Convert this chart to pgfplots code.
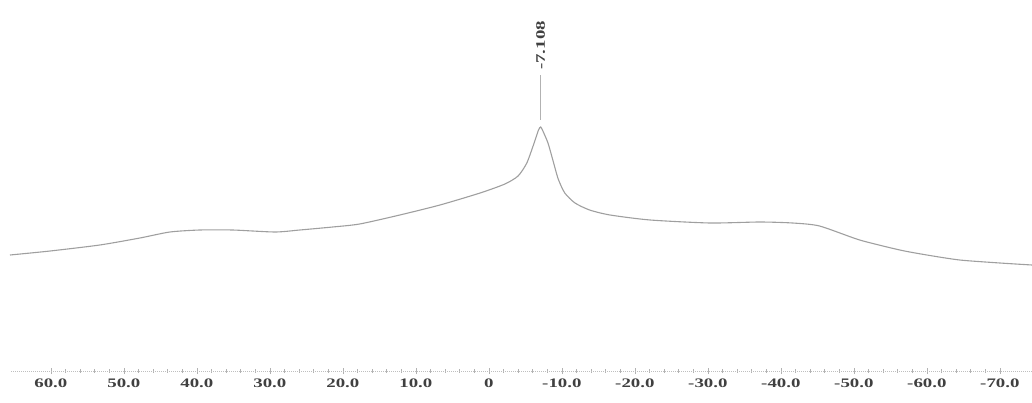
\documentclass[border=0pt]{standalone}
\usepackage{fontspec}
\setmainfont{Liberation Serif}
\usepackage{graphicx}
\usepackage{pgfplots}
\pgfplotsset{compat=1.18}
\newcommand{\lbl}[1]{\scalebox{1.45}[1]{\fontsize{13}{13}\selectfont\bfseries #1}}
\begin{document}
\begin{tikzpicture}
\begin{axis}[
  at={(0,0)}, anchor=south west,
  scale only axis,
  width=1022pt, height=371pt,
  x dir=reverse,
  xmin=-74.4, xmax=65.6,
  ymin=0, ymax=371,
  axis x line=bottom,
  axis y line=none,
  axis line style={gray!50, densely dotted, line width=1pt, -},
  xtick={60,50,40,30,20,10,0,-10,-20,-30,-40,-50,-60,-70},
  xticklabels={\lbl{60.0},\lbl{50.0},\lbl{40.0},\lbl{30.0},\lbl{20.0},\lbl{10.0},\lbl{0},\lbl{-10.0},\lbl{-20.0},\lbl{-30.0},\lbl{-40.0},\lbl{-50.0},\lbl{-60.0},\lbl{-70.0}},
  minor x tick num=4,
  major tick length=6pt, minor tick length=4pt,
  every tick/.style={gray!60, line width=0.7pt},
  tick align=center,
  xticklabel style={text=black!75, yshift=-1pt},
  clip=false,
]
\addplot[gray!75, line width=1.1pt, smooth, tension=0.4] coordinates {
(65.6,116) (60.1,120) (53.3,126) (47.8,133) (43.7,139) (39.6,141) (35.1,141)
(29.3,139) (25.9,141) (21.4,144) (17.7,147) (12.2,156) (6.7,166) (1.2,178)
(-2.2,187) (-4.0,195) (-5.2,208) (-6.2,228) (-6.8,241) (-7.1,244) (-7.4,240)
(-8.1,228) (-8.8,210) (-9.5,192) (-10.4,178) (-11.8,168) (-13.8,161) (-16.6,156)
(-22.1,151) (-30.3,148) (-37.1,149) (-41.6,148) (-45.3,145) (-50.8,131)
(-56.3,121) (-60.0,116) (-64.5,111) (-70.0,108) (-74.4,106)
};
\draw[gray!60, line width=0.7pt] (axis cs:-7.1,251) -- (axis cs:-7.1,296);
\node[rotate=90, anchor=west, inner sep=0pt, text=black!75] at (axis cs:-7.1,301) {\lbl{-7.108}};
\end{axis}
\pgfresetboundingbox
\path (-10pt,-31pt) rectangle (1022pt,371pt);
\end{tikzpicture}
\end{document}
